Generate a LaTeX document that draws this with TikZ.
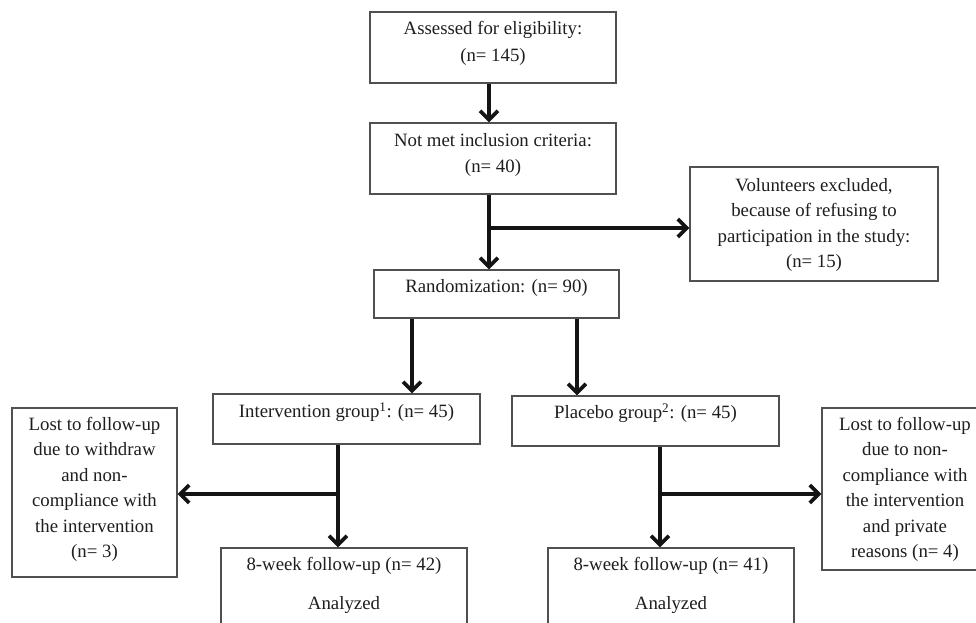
\documentclass[tikz,border=0pt]{standalone}
\usepackage{fontspec}
\setmainfont{Liberation Serif}
\usetikzlibrary{arrows.meta}
\definecolor{boxgray}{HTML}{505050}
\definecolor{txtcol}{HTML}{1E1E1E}
\begin{document}
\begin{tikzpicture}[x=1pt,y=-1pt,
  box/.style={draw=boxgray, line width=1.1pt, inner sep=0pt, fill=white},
  txt/.style={text=txtcol, align=center, inner sep=0pt, font=\fontsize{18.8}{25.5}\selectfont},
  txtwide/.style={txt, font=\fontsize{18.8}{26.8}\selectfont},
  arr/.style={line width=3.8pt, draw=black!92, -{Straight Barb[length=9pt,width=18pt]}},
  seg/.style={line width=3.8pt, draw=black!92}]
\clip (0,0) rectangle (976,623);
\fill[white] (0,0) rectangle (976,623);
% boxes
\node[box, minimum width=246, minimum height=71] (assess) at (493,47.5) {};
\node[box, minimum width=246, minimum height=71] (notmet) at (493,158.5) {};
\node[box, minimum width=248, minimum height=114] (vol) at (814,224) {};
\node[box, minimum width=245, minimum height=48] (rand) at (496.5,294) {};
\node[box, minimum width=267, minimum height=50] (int) at (346.5,419) {};
\node[box, minimum width=267, minimum height=50] (plac) at (645.5,421) {};
\node[box, minimum width=165, minimum height=169] (lostL) at (94.5,492.5) {};
\node[box, minimum width=167, minimum height=162] (lostR) at (905.5,489) {};
\node[box, minimum width=246, minimum height=80] (fuL) at (344,588) {};
\node[box, minimum width=246, minimum height=80] (fuR) at (671,588) {};
% texts
\node[txtwide] (assessT) at (493,43.5) {Assessed for eligibility:\\(n= 145)};
\node[txtwide] (notmetT) at (493,155) {Not met inclusion criteria:\\(n= 40)};
\node[txt] (volT) at (814,225) {Volunteers excluded,\\because of refusing to\\participation in the study:\\(n= 15)};
\node[txt] (randT) at (496.5,288) {Randomization: (n= 90)};
\node[txt] (intT) at (346.5,412) {Intervention group\textsuperscript{1}: (n= 45)};
\node[txt] (placT) at (645.5,413) {Placebo group\textsuperscript{2}: (n= 45)};
\node[txt] (lostLT) at (94.5,489.5) {Lost to follow-up\\due to withdraw\\and non-\\compliance with\\the intervention\\(n= 3)};
\node[txt] (lostRT) at (905,489.5) {Lost to follow-up\\due to non-\\compliance with\\the intervention\\and private\\reasons (n= 4)};
\node[txt] (fuLT) at (344,566) {8-week follow-up (n= 42)};
\node[txt] (fuLA) at (344,605) {Analyzed};
\node[txt] (fuRT) at (671,566) {8-week follow-up (n= 41)};
\node[txt] (fuRA) at (671,605) {Analyzed};
% connector coordinates
\coordinate (mainx) at (489,228);
\coordinate (leftx) at (412,0);
\coordinate (rightx) at (577,0);
\coordinate (brL) at (338,494);
\coordinate (brR) at (660,494);
% connectors
\draw[arr] (assess.south -| mainx) -- (notmet.north -| mainx);
\draw[arr] (notmet.south -| mainx) -- (rand.north -| mainx);
\draw[arr] (mainx) -- (vol.west |- mainx);
\draw[arr] (rand.south -| leftx) -- (int.north -| leftx);
\draw[arr] (rand.south -| rightx) -- (plac.north -| rightx);
\draw[arr] (int.south -| brL) -- (fuL.north -| brL);
\draw[arr] (brL) -- (lostL.east |- brL);
\draw[arr] (plac.south -| brR) -- (fuR.north -| brR);
\draw[arr] (brR) -- (lostR.west |- brR);
\end{tikzpicture}
\end{document}
